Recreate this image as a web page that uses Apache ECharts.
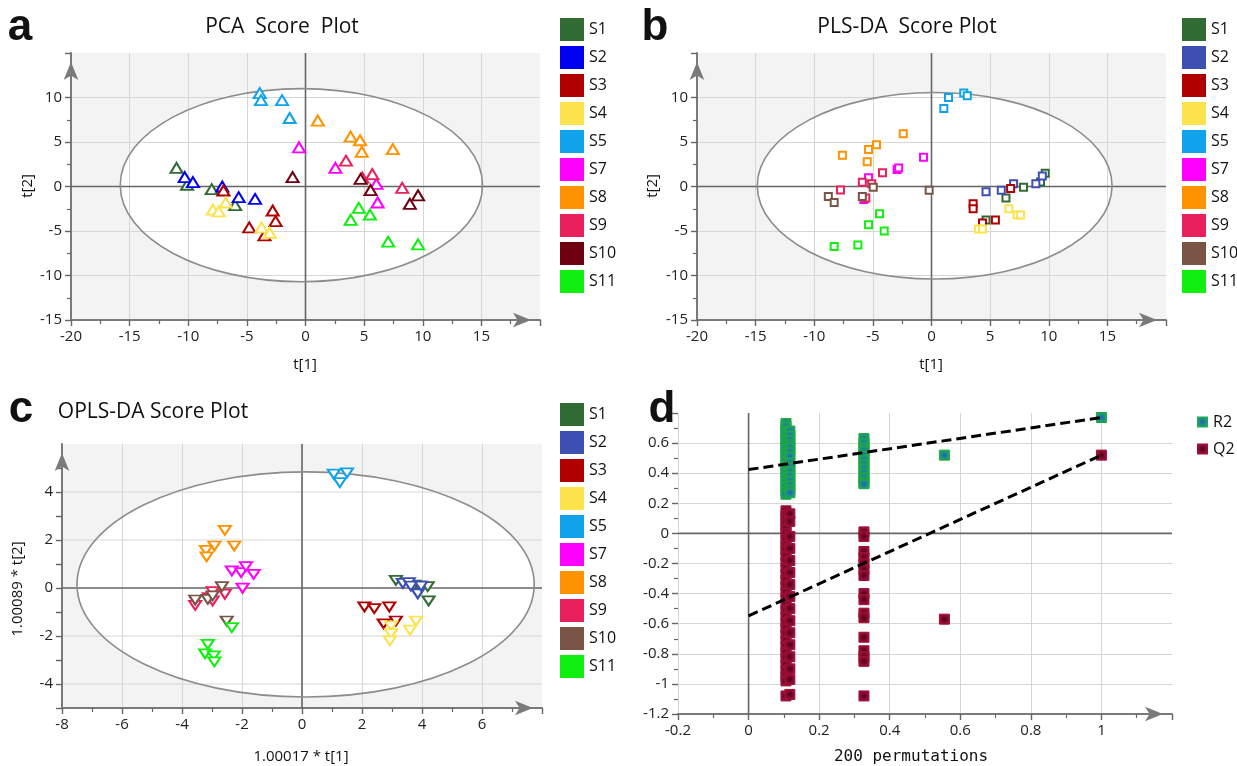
<!DOCTYPE html>
<html><head><meta charset="utf-8">
<script src="https://cdn.jsdelivr.net/npm/echarts@6/dist/echarts.min.js"></script>
<style>html,body{margin:0;padding:0;background:#fff}#c{width:1237px;height:766px}</style>
</head><body><div id="c"></div><script>
// ---------- groups & colours ----------
const groups = ['S1','S2','S3','S4','S5','S7','S8','S9','S10','S11'];
const colorsA  = ['#2f6b33','#0000f0','#b00000','#fce34c','#10a3ec','#ff00ff','#ff9200','#e8215d','#6e0010','#10f010'];
const colorsBC = ['#2f6b33','#3d4fb3','#b00000','#fce34c','#10a3ec','#ff00ff','#ff9200','#e8215d','#7a5546','#10f010'];

// ---------- a: PCA scores [t1, t2] ----------
const pcaS1  = [[-11.0,2.1],[-10.1,0.2],[-8.0,-0.3],[-6.0,-2.1]];
const pcaS2  = [[-10.3,1.05],[-9.6,0.5],[-7.1,0.0],[-5.7,-1.2],[-4.3,-1.4]];
const pcaS3  = [[-2.8,-2.7],[-2.55,-3.9],[-4.8,-4.6],[-3.5,-5.5],[-7.0,-0.45]];
const pcaS4  = [[-7.9,-2.6],[-7.4,-2.8],[-6.8,-1.8],[-3.75,-4.6],[-3.05,-5.2]];
const pcaS5  = [[-3.9,10.5],[-3.8,9.7],[-2.0,9.7],[-1.35,7.7]];
const pcaS7  = [[-0.55,4.4],[2.55,2.1],[6.05,0.3],[6.15,-1.8]];
const pcaS8  = [[1.05,7.4],[3.85,5.6],[4.65,5.2],[4.8,3.9],[7.45,4.2]];
const pcaS9  = [[3.45,2.9],[4.85,1.0],[5.7,1.4],[8.25,-0.15]];
const pcaS10 = [[-1.1,1.05],[4.7,0.85],[5.55,-0.4],[9.6,-1.0],[8.9,-1.95]];
const pcaS11 = [[4.55,-2.4],[3.85,-3.75],[5.5,-3.15],[7.05,-6.2],[9.6,-6.5]];

// ---------- b: PLS-DA scores ----------
const plsS1  = [[9.7,1.5],[9.3,0.5],[7.85,-0.08],[6.35,-1.28],[4.65,-3.76]];
const plsS2  = [[4.65,-0.6],[5.95,-0.41],[7.0,0.3],[8.9,0.3],[9.45,1.17]];
const plsS3  = [[3.55,-1.95],[3.55,-2.5],[4.35,-4.1],[5.45,-3.76],[6.75,-0.23]];
const plsS4  = [[6.6,-2.5],[7.3,-3.2],[7.6,-3.2],[4.0,-4.77],[4.35,-4.77]];
const plsS5  = [[1.05,8.76],[1.45,10.0],[2.75,10.5],[3.05,10.2]];
const plsS7  = [[-2.93,1.9],[-2.8,2.07],[-0.68,3.3],[-5.37,0.98],[-5.77,-1.47]];
const plsS8  = [[-7.6,3.5],[-5.37,4.17],[-4.69,4.7],[-5.48,2.78],[-2.41,5.94]];
const plsS9  = [[-4.18,1.54],[-5.9,0.49],[-7.76,-0.38],[-5.1,0.3],[-5.6,-1.3]];
const plsS10 = [[-8.8,-1.13],[-8.3,-1.8],[-5.9,-1.13],[-4.97,-0.08],[-0.2,-0.41]];
const plsS11 = [[-4.43,-3.05],[-5.37,-4.29],[-4.03,-5.0],[-8.3,-6.73],[-6.28,-6.58]];

// ---------- c: OPLS-DA scores ----------
const oplsS1  = [[3.13,0.32],[3.75,0.12],[3.91,0.08],[4.19,0.06],[4.22,-0.54]];
const oplsS2  = [[3.36,0.19],[3.56,0.22],[3.63,0.08],[3.86,-0.24],[3.97,0.08]];
const oplsS3  = [[2.08,-0.79],[2.41,-0.86],[2.91,-0.79],[2.72,-1.49],[3.13,-1.375]];
const oplsS4  = [[2.97,-1.58],[2.97,-1.9],[2.93,-2.2],[3.8,-1.375],[3.6,-1.76]];
const oplsS5  = [[1.06,4.74],[1.5,4.8],[1.26,4.39]];
const oplsS7  = [[-2.34,0.71],[-2.03,0.64],[-1.87,0.89],[-1.61,0.57],[-1.98,-0.01]];
const oplsS8  = [[-2.57,2.4],[-2.92,1.75],[-3.2,1.57],[-3.18,1.3],[-2.26,1.75]];
const oplsS9  = [[-2.98,-0.15],[-2.98,-0.54],[-2.57,-0.26],[-3.56,-0.72],[-3.1,-0.4]];
const oplsS10 = [[-2.67,0.06],[-3.56,-0.5],[-3.14,-0.47],[-2.98,-0.33],[-2.51,-1.375]];
const oplsS11 = [[-2.34,-1.65],[-3.14,-2.35],[-3.23,-2.74],[-2.94,-2.83],[-2.92,-3.08]];

// ---------- ellipses [cx, cy, rx, ry] ----------
const ellipseA = [-0.35, 0.15, 15.45, 10.85];
const ellipseB = [0.27, 0.08, 15.13, 10.48];
const ellipseC = [0.12, 0.15, 7.62, 4.69];
const cGridY = [-4, -2, 2, 4];

// ---------- d: permutation test ----------
const permX = [0.106, 0.117, 0.327, 0.555, 1];
const r2ByX = [
  [0.73,0.71,0.68,0.66,0.63,0.61,0.58,0.56,0.53,0.5,0.48,0.45,0.42,0.4,0.37,0.34,0.31,0.28,0.26],
  [0.68,0.65,0.62,0.59,0.57,0.54,0.51,0.47,0.44,0.41,0.38,0.35,0.32,0.29,0.27],
  [0.63,0.6,0.57,0.55,0.52,0.49,0.46,0.43,0.4,0.37,0.34,0.33],
  [0.52],
  [0.77]
];
const q2ByX = [
  [0.15,0.12,0.09,0.06,0.03,0.0,-0.04,-0.08,-0.11,-0.15,-0.19,-0.23,-0.27,-0.31,-0.35,-0.39,-0.43,-0.47,-0.51,-0.55,-0.59,-0.63,-0.67,-0.71,-0.75,-0.79,-0.83,-0.87,-0.91,-0.95,-0.98,-1.08],
  [0.13,0.08,-0.02,-0.1,-0.18,-0.26,-0.34,-0.42,-0.5,-0.58,-0.66,-0.74,-0.82,-0.9,-0.97,-1.07],
  [0.01,-0.02,-0.12,-0.16,-0.2,-0.24,-0.28,-0.4,-0.44,-0.53,-0.56,-0.69,-0.78,-0.82,-0.85,-1.08],
  [-0.57],
  [0.52]
];
const r2Line = [[0, 0.424], [1, 0.77]];
const q2Line = [[0, -0.548], [1, 0.52]];

// ---------- helpers ----------
const FONT = '"Open Sans", "Noto Sans", sans-serif';
const pcaPts = [pcaS1,pcaS2,pcaS3,pcaS4,pcaS5,pcaS7,pcaS8,pcaS9,pcaS10,pcaS11];
const plsPts = [plsS1,plsS2,plsS3,plsS4,plsS5,plsS7,plsS8,plsS9,plsS10,plsS11];
const oplsPts = [oplsS1,oplsS2,oplsS3,oplsS4,oplsS5,oplsS7,oplsS8,oplsS9,oplsS10,oplsS11];

function bgRender(grayBg, hLines) {
  return function (params, api) {
    const cs = params.coordSys;
    const ch = [];
    if (grayBg) ch.push({type:'rect', shape:{x:cs.x, y:cs.y, width:cs.width, height:cs.height}, style:{fill:'#f3f3f3'}});
    if (api.value(2) > 0) {
      const c = api.coord([api.value(0), api.value(1)]);
      const s = api.size([api.value(2), api.value(3)]);
      ch.push({type:'ellipse', shape:{cx:c[0], cy:c[1], rx:s[0], ry:s[1]}, style:{fill:'#ffffff'}});
    }
    (hLines || []).forEach(v => {
      const p = api.coord([0, v]);
      ch.push({type:'line', shape:{x1:cs.x, y1:p[1], x2:cs.x+cs.width, y2:p[1]}, style:{stroke:'#d6d6d6', lineWidth:1}});
    });
    return {type:'group', children: ch};
  };
}
function overlayRender(params, api) {
  const cs = params.coordSys;
  const o = api.coord([0, 0]);
  const ch = [
    {type:'line', shape:{x1:o[0], y1:cs.y, x2:o[0], y2:cs.y+cs.height}, style:{stroke:'#666', lineWidth:1.6}},
    {type:'line', shape:{x1:cs.x, y1:o[1], x2:cs.x+cs.width, y2:o[1]}, style:{stroke:'#666', lineWidth:1.6}}
  ];
  if (api.value(2) > 0) {
    const c = api.coord([api.value(0), api.value(1)]);
    const s = api.size([api.value(2), api.value(3)]);
    ch.push({type:'ellipse', shape:{cx:c[0], cy:c[1], rx:s[0], ry:s[1]}, style:{fill:null, stroke:'#8c8c8c', lineWidth:1.6}});
  }
  return {type:'group', children: ch};
}

function mkAxis(idx, min, max, interval, opts) {
  opts = opts || {};
  return {
    type:'value', gridIndex: idx, min, max, interval,
    axisLine: {show: opts.noLine ? false : true, onZero:false, symbol:['none','arrow'], symbolSize:[11,18], symbolOffset:[0,-9],
               lineStyle:{color:'#7a7a7a', width:2}},
    axisTick: {show:true, length:6, lineStyle:{color:'#666', width:1.4}},
    minorTick: {show: opts.minor !== false, splitNumber:2, length:4, lineStyle:{color:'#666', width:1.2}},
    axisLabel: {fontSize:15, color:'#222', fontFamily:FONT, showMaxLabel:false, margin:9,
                formatter: opts.fmt},
    splitLine: {show: opts.noSplit ? false : true, showMaxLine:false, lineStyle:{color:'#d6d6d6', width:1}},
    minorSplitLine: {show:false}
  };
}

const series = [];
// backgrounds (below axes)
series.push({type:'custom', xAxisIndex:0, yAxisIndex:0, z:-1, silent:true, renderItem:bgRender(true), data:[ellipseA]});
series.push({type:'custom', xAxisIndex:1, yAxisIndex:1, z:-1, silent:true, renderItem:bgRender(true), data:[ellipseB]});
series.push({type:'custom', xAxisIndex:2, yAxisIndex:2, z:-1, silent:true, renderItem:bgRender(true, cGridY), data:[ellipseC]});
// overlays (zero lines + ellipse outline)
series.push({type:'custom', xAxisIndex:0, yAxisIndex:0, z:1, silent:true, renderItem:overlayRender, data:[ellipseA]});
series.push({type:'custom', xAxisIndex:1, yAxisIndex:1, z:1, silent:true, renderItem:overlayRender, data:[ellipseB]});
series.push({type:'custom', xAxisIndex:2, yAxisIndex:2, z:1, silent:true, renderItem:overlayRender, data:[ellipseC]});
series.push({type:'custom', xAxisIndex:3, yAxisIndex:3, z:1, silent:true, renderItem:overlayRender, data:[[0,0,0,0]]});

groups.forEach((g, i) => {
  series.push({type:'scatter', name:g, xAxisIndex:0, yAxisIndex:0, data:pcaPts[i], symbol:'emptyTriangle',
    symbolSize:[12,10], color:colorsA[i], itemStyle:{borderWidth:1.8, borderColor:colorsA[i], opacity:1}, z:3});
  series.push({type:'scatter', name:g+'\u200b', xAxisIndex:1, yAxisIndex:1, data:plsPts[i], symbol:'emptyRect',
    symbolSize:7, color:colorsBC[i], itemStyle:{borderWidth:1.4, borderColor:colorsBC[i], opacity:1}, z:3});
  series.push({type:'scatter', name:g+'\u200b\u200b', xAxisIndex:2, yAxisIndex:2, data:oplsPts[i], symbol:'emptyTriangle',
    symbolRotate:180, symbolSize:[12,9], color:colorsBC[i], itemStyle:{borderWidth:1.8, borderColor:colorsBC[i], opacity:1}, z:3});
});

const r2Data = [], q2Data = [];
permX.forEach((x, k) => {
  r2ByX[k].forEach(v => r2Data.push([x, v]));
  q2ByX[k].forEach(v => q2Data.push([x, v]));
});
const r2Fill = {type:'radial', x:0.5, y:0.5, r:0.6, colorStops:[{offset:0,color:'#1d5fbf'},{offset:0.5,color:'#1f8f86'},{offset:1,color:'#1fb83b'}]};
const q2Fill = {type:'radial', x:0.5, y:0.5, r:0.6, colorStops:[{offset:0,color:'#4a0018'},{offset:0.55,color:'#8a0b30'},{offset:1,color:'#a8123e'}]};
series.push({type:'scatter', name:'R2', xAxisIndex:3, yAxisIndex:3, data:r2Data, symbol:'rect', symbolSize:10,
  itemStyle:{color:r2Fill, borderColor:'#17a83a', borderWidth:1, opacity:1}, z:3});
series.push({type:'scatter', name:'Q2', xAxisIndex:3, yAxisIndex:3, data:q2Data, symbol:'rect', symbolSize:10,
  itemStyle:{color:q2Fill, borderColor:'#9c0f38', borderWidth:1, opacity:1}, z:3});
series.push({type:'line', xAxisIndex:3, yAxisIndex:3, data:r2Line, symbol:'none', z:5, silent:true,
  lineStyle:{color:'#000', width:3, type:[10,5]}});
series.push({type:'line', xAxisIndex:3, yAxisIndex:3, data:q2Line, symbol:'none', z:5, silent:true,
  lineStyle:{color:'#000', width:3, type:[10,5]}});

const legendBase = {orient:'vertical', icon:'rect', itemWidth:24, itemHeight:23, itemGap:5, selectedMode:false,
  itemStyle:{borderWidth:0, opacity:1}, textStyle:{fontSize:16, color:'#111', fontFamily:FONT},
  formatter: n => n.replace(/\u200b/g, '')};

const txt = (x, y, text, font, rot) => ({type:'text', x, y, rotation: rot || 0, silent:true,
  style:{text, font, fill:'#111', align:'center', verticalAlign:'middle'}});

const option = {
  animation:false,
  backgroundColor:'#ffffff',
  grid: [
    {left:71, top:53, width:469, height:267},
    {left:697, top:53, width:469, height:267},
    {left:62, top:444, width:480, height:264},
    {left:678, top:413, width:494, height:301}
  ],
  xAxis: [
    mkAxis(0, -20, 20, 5),
    mkAxis(1, -20, 20, 5),
    mkAxis(2, -8, 8, 2),
    mkAxis(3, -0.2, 1.2, 0.2)
  ],
  yAxis: [
    mkAxis(0, -15, 15, 5),
    mkAxis(1, -15, 15, 5),
    mkAxis(2, -5, 6, 1, {minor:false, noSplit:true, fmt: v => (v % 2 === 0 ? String(v) : '')}),
    mkAxis(3, -1.2, 0.8, 0.2, {noLine:true})
  ],
  legend: [
    Object.assign({}, legendBase, {left:555, top:13, data:groups.slice()}),
    Object.assign({}, legendBase, {left:1177, top:13, data:groups.map(g => g+'\u200b')}),
    Object.assign({}, legendBase, {left:555, top:398, data:groups.map(g => g+'\u200b\u200b')}),
    {orient:'vertical', icon:'rect', itemWidth:11, itemHeight:11, itemGap:11, selectedMode:false, left:1192, top:409,
     itemStyle:{borderWidth:0, opacity:1}, textStyle:{fontSize:16, color:'#111', fontFamily:FONT}, data:['R2','Q2']}
  ],
  graphic: [
    txt(20, 28, 'a', 'bold 44px "Liberation Sans", Arial, sans-serif'),
    txt(655, 28, 'b', 'bold 44px "Liberation Sans", Arial, sans-serif'),
    txt(21, 410, 'c', 'bold 44px "Liberation Sans", Arial, sans-serif'),
    txt(662, 410, 'd', 'bold 44px "Liberation Sans", Arial, sans-serif'),
    txt(282, 27, 'PCA  Score  Plot', '21px ' + FONT),
    txt(907, 27, 'PLS-DA  Score Plot', '21px ' + FONT),
    txt(153, 412, 'OPLS-DA Score Plot', '21px ' + FONT),
    txt(305, 365, 't[1]', '15px ' + FONT),
    txt(28, 186, 't[2]', '15px ' + FONT, Math.PI/2),
    txt(931, 365, 't[1]', '15px ' + FONT),
    txt(653, 186, 't[2]', '15px ' + FONT, Math.PI/2),
    txt(301, 757, '1.00017 * t[1]', '15px ' + FONT),
    txt(18, 589, '1.00089 * t[2]', '15px ' + FONT, Math.PI/2),
    txt(911, 757, '200 permutations', '16px "DejaVu Sans Mono", monospace')
  ],
  series
};
const chart = echarts.init(document.getElementById('c'), null, {renderer:'canvas'});
chart.setOption(option);
</script></body></html>
